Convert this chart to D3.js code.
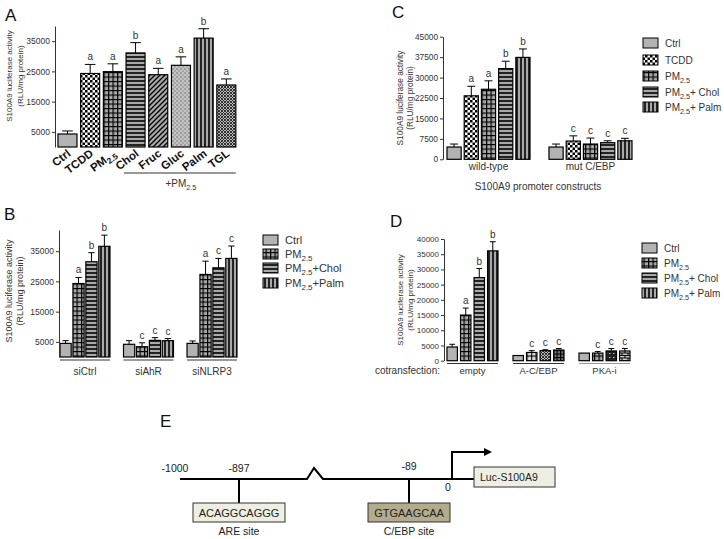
<!DOCTYPE html>
<html><head><meta charset="utf-8">
<script src="https://cdn.jsdelivr.net/npm/d3@7"></script>
<style>body{margin:0;background:#fff} svg{display:block;font-family:"Liberation Sans",Arial,sans-serif}</style>
</head><body><svg id="c" width="724" height="539"></svg>
<script>
// ---------- DATA ----------
// Panel A
const catsA = ["Ctrl","TCDD","PM2.5","Chol","Fruc","Gluc","Palm","TGL"];
const valsA = [4300, 24300, 24900, 31100, 23900, 27000, 36000, 20500];
const errA  = [5300, 27300, 27500, 34500, 26000, 29800, 39100, 22500];
const sigA  = ["", "a", "a", "b", "a", "a", "b", "a"];
const ticksA = [5000, 15000, 25000, 35000];
// Panel B
const groupsB = ["siCtrl","siAhR","siNLRP3"];
const seriesB = ["Ctrl","PM2.5","PM2.5+Chol","PM2.5+Palm"];
const valsB = [[4500,24300,31500,36600],[4200,3400,5500,5400],[4500,27300,29500,32600]];
const errB  = [[5400,26300,34500,40300],[5400,4700,6400,6100],[5300,31700,32600,36700]];
const sigB  = [["","a","b","b"],["","c","c","c"],["","a","c","c"]];
const ticksB = [5000, 15000, 25000, 35000];
// Panel C
const groupsC = ["wild-type","mut C/EBP"];
const seriesC = ["Ctrl","TCDD","PM2.5","PM2.5+ Chol","PM2.5+ Palm"];
const valsC = [[4500,23300,25700,33300,37400],[4500,6700,5600,6100,6800]];
const errC  = [[5600,26800,28800,36000,40500],[5600,8600,7800,6800,7700]];
const sigC  = [["","a","a","b","b"],["","c","c","c","c"]];
const ticksC = [0,7500,15000,22500,30000,37500,45000];
// Panel D
const groupsD = ["empty","A-C/EBP","PKA-i"];
const seriesD = ["Ctrl","PM2.5","PM2.5+ Chol","PM2.5+ Palm"];
const valsD = [[4500,15000,27300,36100],[1700,2700,3300,3500],[2500,2500,3200,3200]];
const errD  = [[5400,17300,30300,39100],[1700,3300,3600,4000],[2500,3000,4000,4000]];
const sigD  = [["","a","b","b"],["","c","c","c"],["","c","c","c"]];
const ticksD = [0,5000,10000,15000,20000,25000,30000,35000,40000];
// Panel E
const promoterTicks = [-1000,-897,-89,0];
const siteNames = ["ARE site","C/EBP site"];
const sitePos = [-897,-89];
const siteSeq = ["ACAGGCAGGG","GTGAAGCAA"];

// ---------- STYLE MAPS ----------
const patternOf = {"Ctrl":"solid","TCDD":"checker","PM2.5":"grid","Chol":"hstripe","Fruc":"diag","Gluc":"dots","Palm":"vstripe","TGL":"xhatch",
  "PM2.5+Chol":"hstripe","PM2.5+Palm":"vstripe","PM2.5+ Chol":"hstripe","PM2.5+ Palm":"vstripe"};
const patternD = [["solid","grid","hstripe","vstripe"],["solid","gridlt","xhatch","griddk"],["solid","grid","dark","brick"]];

const svg = d3.select("#c");
const defs = svg.append("defs");
const GR = "#a9a9a9";
function pat(id,w,h,bg,draw){
  const p = defs.append("pattern").attr("id",id).attr("patternUnits","userSpaceOnUse").attr("width",w).attr("height",h);
  p.append("rect").attr("width",w).attr("height",h).attr("fill",bg);
  draw(p);
}
pat("checker",5,5,"#fff",p=>{
  p.append("rect").attr("width",2.5).attr("height",2.5).attr("fill","#000");
  p.append("rect").attr("x",2.5).attr("y",2.5).attr("width",2.5).attr("height",2.5).attr("fill","#000");
});
pat("grid",4.5,4.5,GR,p=>p.append("path").attr("d","M0,0.6H4.5M0.6,0V4.5").attr("stroke","#000").attr("stroke-width",1.2));
pat("gridlt",4.5,4.5,"#ddd",p=>p.append("path").attr("d","M0,0.6H4.5M0.6,0V4.5").attr("stroke","#000").attr("stroke-width",1));
pat("griddk",3.5,3.5,"#777",p=>p.append("path").attr("d","M0,0.6H3.5M0.6,0V3.5").attr("stroke","#000").attr("stroke-width",1.2));
pat("hstripe",4,4,GR,p=>p.append("path").attr("d","M0,1H4").attr("stroke","#000").attr("stroke-width",1.6));
pat("vstripe",4,4,GR,p=>p.append("path").attr("d","M1,0V4").attr("stroke","#000").attr("stroke-width",1.6));
pat("diag",5,5,GR,p=>p.append("path").attr("d","M0,5L5,0M-1,1L1,-1M4,6L6,4").attr("stroke","#000").attr("stroke-width",1.3));
pat("dots",4,4,"#c4c4c4",p=>{
  p.append("circle").attr("cx",1).attr("cy",1).attr("r",0.7).attr("fill","#555");
  p.append("circle").attr("cx",3).attr("cy",3).attr("r",0.7).attr("fill","#777");
});
pat("xhatch",3,3,"#bbb",p=>p.append("path").attr("d","M0,0L3,3M3,0L0,3").attr("stroke","#222").attr("stroke-width",0.9));
pat("dark",4,4,"#222",p=>p.append("rect").attr("x",1).attr("y",1).attr("width",1.5).attr("height",1).attr("fill","#bbb"));
pat("brick",6,5,"#ccc",p=>p.append("path").attr("d","M0,0.5H6M0,3H6M1,0.5V3M4,3V5").attr("stroke","#000").attr("stroke-width",1));
function fillFor(p){ return p==="solid" ? "#b3b3b3" : "url(#"+p+")"; }

function rich(sel,label){
  const m = label.match(/^(.*?)PM2\.5(.*)$/);
  if(!m){ sel.text(label); return; }
  sel.append("tspan").text(m[1]+"PM");
  sel.append("tspan").attr("font-size","0.72em").attr("dy",3).text("2.5");
  if(m[2]) sel.append("tspan").attr("dy",-3).text(m[2]);
}
function yAxis(g,y,x,ticks,fs){
  const a = g.append("g").attr("transform","translate("+x+",0)")
    .call(d3.axisLeft(y).tickValues(ticks).tickSize(3).tickSizeOuter(0).tickFormat(d3.format("d")));
  a.select(".domain").attr("stroke","#333");
  a.selectAll(".tick line").attr("stroke","#333");
  a.selectAll("text").attr("font-size",fs).attr("fill","#333").attr("font-family","inherit").attr("dx",1);
}
function yTitle(x1,x2,cy,fs){
  [["S100A9 luciferase activity",x1],["(RLU/mg protein)",x2]].forEach(([t,x])=>{
    svg.append("text").attr("transform","translate("+(x+fs*0.35)+","+cy+") rotate(-90)")
      .attr("text-anchor","middle").attr("font-size",fs).attr("fill","#333").text(t);
  });
}
function panelLabel(t,x,y){ svg.append("text").attr("x",x).attr("y",y).attr("font-size",17).attr("fill","#111").text(t); }
function bar(g,x,w,v,e,y,fill,sig){
  g.append("rect").attr("x",x).attr("y",y(v)).attr("width",w).attr("height",y(0)-y(v))
    .attr("fill",fill).attr("stroke","#000").attr("stroke-width",1.2);
  const cx = x+w/2;
  if(e>v){
    g.append("line").attr("x1",cx).attr("x2",cx).attr("y1",y(v)).attr("y2",y(e)).attr("stroke","#000");
    g.append("line").attr("x1",cx-w*0.28).attr("x2",cx+w*0.28).attr("y1",y(e)).attr("y2",y(e)).attr("stroke","#000");
  }
  if(sig) g.append("text").attr("x",cx).attr("y",y(e)-4).attr("text-anchor","middle").attr("font-size",10).attr("fill","#333").text(sig);
}
function legend(x,ys,labels,pats,fs){
  labels.forEach((l,i)=>{
    svg.append("rect").attr("x",x).attr("y",ys[i]-5).attr("width",15).attr("height",10)
      .attr("fill",fillFor(pats[i])).attr("stroke","#000");
    rich(svg.append("text").attr("x",x+22).attr("y",ys[i]+4).attr("font-size",fs).attr("fill","#333"),l);
  });
}

// ---------- PANEL A ----------
panelLabel("A",5,21);
const yA = d3.scaleLinear().domain([0,40000]).range([147,26]);
const xA = d3.scaleBand().domain(catsA).range([55.7,238.1]).paddingInner(0.163).paddingOuter(0.1);
const gA = svg.append("g");
catsA.forEach((c,i)=>bar(gA,xA(c),xA.bandwidth(),valsA[i],errA[i],yA,fillFor(patternOf[c]),sigA[i]));
yAxis(gA,yA,55,ticksA,8.5);
yTitle(9,20,76,8);
catsA.forEach(c=>{
  const t = svg.append("text").attr("transform","translate("+(xA(c)+xA.bandwidth()/2+4)+",155) rotate(-37)")
    .attr("text-anchor","end").attr("font-size",11.5).attr("font-weight","bold").attr("fill","#111");
  rich(t,c);
});
svg.append("line").attr("x1",xA("Chol")-2).attr("x2",xA("TGL")+xA.bandwidth()).attr("y1",173).attr("y2",173).attr("stroke","#333");
rich(svg.append("text").attr("x",(xA("Chol")+xA("TGL")+xA.bandwidth())/2).attr("y",187).attr("text-anchor","middle").attr("font-size",10).attr("fill","#333"),"+PM2.5");

// ---------- grouped panel ----------
function grouped(opt){
  const y = d3.scaleLinear().domain(opt.ydom).range(opt.yr);
  const x0 = d3.scaleBand().domain(opt.groups).range(opt.xr).paddingInner(opt.pi).paddingOuter(opt.po);
  const x1 = d3.scaleBand().domain(opt.series).range([0,x0.bandwidth()]).paddingInner(opt.pi1);
  const g = svg.append("g");
  opt.groups.forEach((gr,gi)=>{
    opt.series.forEach((s,si)=>{
      const p = opt.pats ? opt.pats[gi][si] : patternOf[s];
      bar(g,x0(gr)+x1(s),x1.bandwidth(),opt.vals[gi][si],opt.errs[gi][si],y,fillFor(p),opt.sig[gi][si]);
    });
  });
  yAxis(g,y,opt.axisX,opt.ticks,opt.tfs);
  return {x0,y};
}

// ---------- PANEL B ----------
panelLabel("B",4,220);
const B = grouped({ydom:[0,42000],yr:[357,230],groups:groupsB,series:seriesB,xr:[58.1,238.9],pi:0.213,po:0.03,pi1:0.134,
  vals:valsB,errs:errB,sig:sigB,axisX:59,ticks:ticksB,tfs:8.5});
yTitle(9,20,291,9);
groupsB.forEach(gr=>{
  const a = B.x0(gr), b = a+B.x0.bandwidth();
  svg.append("line").attr("x1",a).attr("x2",b).attr("y1",360).attr("y2",360).attr("stroke","#333");
  svg.append("text").attr("x",(a+b)/2).attr("y",375).attr("text-anchor","middle").attr("font-size",10).attr("fill","#333").text(gr);
});
legend(263,[240,254,268,283],seriesB,seriesB.map(s=>patternOf[s]),11);

// ---------- PANEL C ----------
panelLabel("C",392,18);
const C = grouped({ydom:[0,45000],yr:[159.3,36.7],groups:groupsC,series:seriesC,xr:[431.7,647.3],pi:0.186,po:0.15,pi1:0.176,
  vals:valsC,errs:errC,sig:sigC,axisX:443,ticks:ticksC,tfs:8.3});
yTitle(400,410,98,8.3);
groupsC.forEach(gr=>{
  svg.append("text").attr("x",C.x0(gr)+C.x0.bandwidth()/2).attr("y",170).attr("text-anchor","middle").attr("font-size",10).attr("fill","#333").text(gr);
});
svg.append("text").attr("x",538).attr("y",190).attr("text-anchor","middle").attr("font-size",10).attr("fill","#333").text("S100A9 promoter constructs");
legend(643,[43,60,76,92,107],seriesC,seriesC.map(s=>patternOf[s]),10);

// ---------- PANEL D ----------
panelLabel("D",390,227);
const D = grouped({ydom:[0,40000],yr:[360.7,239],groups:groupsD,series:seriesD,xr:[445,632],pi:0.227,po:0.03,pi1:0.23,
  vals:valsD,errs:errD,sig:sigD,pats:patternD,axisX:444,ticks:ticksD,tfs:8});
yTitle(400,410,300,8);
const ulCol = ["#333","#333","#999"];
groupsD.forEach((gr,i)=>{
  const a = D.x0(gr), b = a+D.x0.bandwidth();
  svg.append("line").attr("x1",a).attr("x2",b).attr("y1",363.5).attr("y2",363.5).attr("stroke",ulCol[i]).attr("stroke-width",1.2);
  svg.append("text").attr("x",(a+b)/2).attr("y",374).attr("text-anchor","middle").attr("font-size",9.5).attr("fill","#333").text(gr);
});
svg.append("text").attr("x",440).attr("y",374).attr("text-anchor","end").attr("font-size",10).attr("fill","#333").text("cotransfection:");
legend(642,[248,263,278,293],seriesD,patternD[0],10);

// ---------- PANEL E ----------
panelLabel("E",160,427);
const xp = d3.scaleLinear().domain(promoterTicks).range([180,239,409,452]);
const yl = 479;
const gE = svg.append("g").attr("stroke","#000").attr("stroke-width",2).attr("fill","none");
gE.append("path").attr("d","M"+xp(-1000)+","+yl+"H307L314,468L323,"+yl+"H474");
defs.append("marker").attr("id","arr").attr("viewBox","0 0 10 10").attr("refX",5).attr("refY",5)
  .attr("markerWidth",4).attr("markerHeight",4).attr("orient","auto")
  .append("path").attr("d","M0,0L10,5L0,10z").attr("fill","#000");
gE.append("path").attr("d","M"+xp(0)+","+yl+"V452H488").attr("marker-end","url(#arr)");
const tLab = [["-1000",-1000,472,-5],["-897",-897,472,0],["-89",-89,470,0],["0",0,491,-4]];
tLab.forEach(([t,v,yy,dx])=>svg.append("text").attr("x",xp(v)+dx).attr("y",yy).attr("text-anchor","middle").attr("font-size",10.5).attr("fill","#222").text(t));
svg.append("rect").attr("x",474).attr("y",467).attr("width",81).attr("height",20).attr("fill","#efeee4").attr("stroke","#333");
svg.append("text").attr("x",480).attr("y",481).attr("font-size",10.5).attr("fill","#222").text("Luc-S100A9");
const boxFill = ["#eeeee2","#b3ab8c"];
sitePos.forEach((p,i)=>{
  const cx = xp(p);
  gE.append("line").attr("x1",cx).attr("x2",cx).attr("y1",yl).attr("y2",503);
  const w = i===0 ? 92 : 82;
  svg.append("rect").attr("x",cx-w/2).attr("y",503).attr("width",w).attr("height",19).attr("fill",boxFill[i]).attr("stroke","#333");
  svg.append("text").attr("x",cx).attr("y",517).attr("text-anchor","middle").attr("font-size",11).attr("fill","#222").text(siteSeq[i]);
  svg.append("text").attr("x",cx).attr("y",535).attr("text-anchor","middle").attr("font-size",10.5).attr("fill","#222").text(siteNames[i]);
});
</script></body></html>
